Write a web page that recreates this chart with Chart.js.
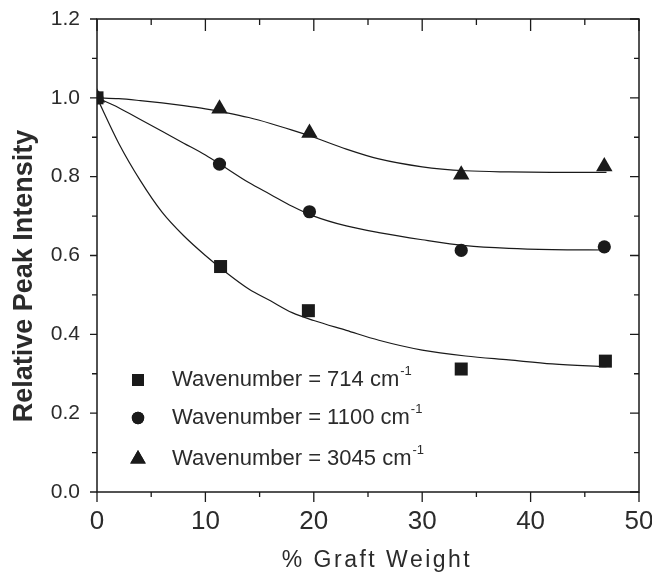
<!DOCTYPE html>
<html>
<head>
<meta charset="utf-8">
<script src="https://cdn.jsdelivr.net/npm/chart.js@4.4.1/dist/chart.umd.min.js"></script>
<style>
  html, body { margin: 0; padding: 0; background: #fff; }
  #wrap { width: 652px; height: 575px; }
</style>
</head>
<body>
<div id="wrap"><canvas id="peakChart" width="652" height="575"></canvas></div>
<script>
/* Relative peak intensity vs graft weight */

// measured points
const graftX714 = [0, 11.4, 19.5, 33.6, 46.9];
const peak714 = [1.00, 0.572, 0.46, 0.312, 0.332];
const graftX1100 = [0, 11.3, 19.6, 33.6, 46.8];
const peak1100 = [1.00, 0.832, 0.711, 0.613, 0.622];
const graftX3045 = [0, 11.3, 19.6, 33.6, 46.8];
const peak3045 = [1.00, 0.972, 0.911, 0.805, 0.826];

// fitted curves
const curveX = [0, 2, 4, 6, 8, 10, 12, 14, 16, 18, 20, 23, 26, 30, 34, 38, 42, 47];
const fit714 = [1.00, 0.885, 0.79, 0.71, 0.65, 0.60, 0.555, 0.515, 0.485, 0.455, 0.435, 0.41, 0.385, 0.36, 0.345, 0.335, 0.325, 0.318];
const fit1100 = [1.00, 0.975, 0.945, 0.915, 0.885, 0.855, 0.82, 0.785, 0.755, 0.725, 0.70, 0.675, 0.658, 0.64, 0.625, 0.618, 0.615, 0.614];
const fit3045 = [1.00, 0.998, 0.993, 0.987, 0.98, 0.972, 0.962, 0.95, 0.935, 0.918, 0.90, 0.87, 0.845, 0.825, 0.815, 0.812, 0.811, 0.811];

const seriesLabels = ['714', '1100', '3045'];
const seriesShapes = ['rect', 'circle', 'triangle'];

const INK = '#1a1a1a';
const TXT = '#2b2b2b';

function pts(xs, ys) { return xs.map((x, i) => ({ x: x, y: ys[i] })); }

function fitSet(ys) {
  return {
    type: 'line',
    data: pts(curveX, ys),
    borderColor: INK,
    borderWidth: 1.2,
    pointRadius: 0,
    cubicInterpolationMode: 'monotone',
    fill: false,
    order: 5
  };
}

function markSet(xs, ys, shape, r, ord) {
  return {
    type: 'scatter',
    data: pts(xs, ys),
    pointStyle: shape,
    pointRadius: r,
    pointBackgroundColor: INK,
    pointBorderColor: INK,
    pointBorderWidth: 0,
    showLine: false,
    order: ord
  };
}

const frameTicks = {
  id: 'frameTicks',
  afterDatasetsDraw(chart) {
    const ctx = chart.ctx;
    const a = chart.chartArea;
    const xs = chart.scales.x, ys = chart.scales.y;
    ctx.save();
    ctx.strokeStyle = INK;
    ctx.lineWidth = 1.5;
    ctx.strokeRect(a.left, a.top, a.right - a.left, a.bottom - a.top);
    ctx.lineWidth = 1.3;
    ctx.beginPath();
    xs.ticks.forEach(t => {
      const px = xs.getPixelForValue(t.value);
      const major = Math.round(t.value) % 10 === 0;
      ctx.moveTo(px, a.bottom); ctx.lineTo(px, a.bottom + (major ? 10 : 5));
      ctx.moveTo(px, a.top); ctx.lineTo(px, a.top + (major ? 12 : 6));
    });
    ys.ticks.forEach(t => {
      const py = ys.getPixelForValue(t.value);
      const major = Math.round(t.value * 10) % 2 === 0;
      ctx.moveTo(a.left, py); ctx.lineTo(a.left - (major ? 7 : 5), py);
      ctx.moveTo(a.right, py); ctx.lineTo(a.right - (major ? 9 : 5), py);
    });
    ctx.stroke();
    ctx.restore();
  },
  afterDraw(chart) {
    const ctx = chart.ctx;
    ctx.save();
    ctx.fillStyle = TXT;
    ctx.textAlign = 'center';
    ctx.textBaseline = 'middle';
    // axis titles
    ctx.font = '23px "Liberation Sans", Arial, sans-serif';
    ctx.letterSpacing = '2.5px';
    ctx.fillText('% Graft Weight', 377, 561);
    ctx.letterSpacing = '0px';
    ctx.save();
    ctx.translate(25, 276);
    ctx.rotate(-Math.PI / 2);
    ctx.font = 'bold 27px "Liberation Sans", Arial, sans-serif';
    ctx.fillText('Relative Peak Intensity', 0, 0);
    ctx.restore();

    // legend
    const rows = [380, 418, 459];
    const radii = [8.5, 6.2, 9];
    rows.forEach((ry, i) => {
      ctx.fillStyle = INK;
      ctx.strokeStyle = INK;
      Chart.helpers.drawPoint(ctx, { pointStyle: seriesShapes[i], radius: radii[i], borderWidth: 0 }, 138, ry);
      ctx.fill();
      ctx.fillStyle = TXT;
      ctx.textAlign = 'left';
      ctx.font = '22px "Liberation Sans", Arial, sans-serif';
      const main = 'Wavenumber = ' + seriesLabels[i] + ' cm';
      ctx.fillText(main, 172, ry);
      const w = ctx.measureText(main).width;
      ctx.font = '13px "Liberation Sans", Arial, sans-serif';
      ctx.fillText('-1', 172 + w + 1, ry - 9);
    });
    ctx.restore();
  }
};

new Chart(document.getElementById('peakChart'), {
  data: {
    datasets: [
      fitSet(fit714),
      fitSet(fit1100),
      fitSet(fit3045),
      markSet(graftX3045, peak3045, 'triangle', 9.5, 3),
      markSet(graftX1100, peak1100, 'circle', 6.6, 2),
      markSet(graftX714, peak714, 'rect', 9.2, 1)
    ]
  },
  options: {
    responsive: false,
    animation: false,
    layout: { padding: { left: 0, right: 13, top: 19, bottom: 0 } },
    plugins: { legend: { display: false }, tooltip: { enabled: false } },
    scales: {
      x: {
        type: 'linear',
        min: 0, max: 50,
        afterFit: s => { s.height = 83; s.paddingLeft = 0; s.paddingRight = 0; },
        grid: { display: false, drawTicks: false },
        border: { display: false },
        ticks: {
          stepSize: 5,
          autoSkip: false,
          maxRotation: 0,
          padding: 14,
          color: TXT,
          font: { family: '"Liberation Sans Narrow", "Liberation Sans", Arial, sans-serif', size: 26 },
          callback: v => (v % 10 === 0 ? String(v) : '')
        }
      },
      y: {
        type: 'linear',
        min: 0, max: 1.2,
        afterFit: s => { s.width = 97; s.paddingTop = 0; s.paddingBottom = 0; },
        grid: { display: false, drawTicks: false },
        border: { display: false },
        ticks: {
          stepSize: 0.1,
          autoSkip: false,
          padding: 17,
          color: TXT,
          font: { family: '"Liberation Sans", Arial, sans-serif', size: 21 },
          callback: v => (Math.round(v * 10) % 2 === 0 ? v.toFixed(1) : '')
        }
      }
    }
  },
  plugins: [frameTicks]
});
</script>
</body>
</html>
